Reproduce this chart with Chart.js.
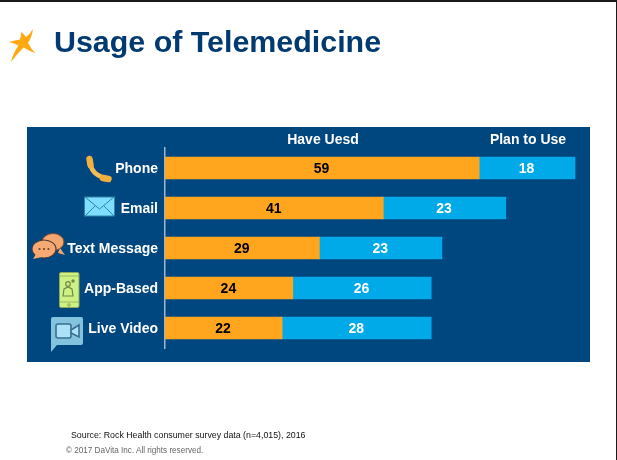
<!DOCTYPE html>
<html>
<head>
<meta charset="utf-8">
<title>Usage of Telemedicine</title>
<script src="https://cdn.jsdelivr.net/npm/chart.js@4"></script>
<style>
  html, body { margin: 0; padding: 0; background: #fff; overflow: hidden; }
  #slide { position: relative; width: 617px; height: 460px; font-family: "Liberation Sans", Arial, sans-serif; overflow: hidden; }
  #slide > * { position: absolute; }
  #topRule { left: 0; top: 0; width: 617px; height: 2px; background: #1a1a1a; }
  #sideRule { left: 616px; top: 0; width: 1px; height: 460px; background: #1a1a1a; }
  #panel { left: 27px; top: 127px; width: 563px; height: 235px; background: #00467F; }
  #heading { left: 54px; top: 22px; font-size: 30.4px; font-weight: bold; color: #003A70; line-height: 38px; white-space: nowrap; }
  .seriesHead { top: 131px; font-size: 14px; font-weight: bold; color: #fff; line-height: 16px; white-space: nowrap; transform: translateX(-50%); }
  #source { left: 71px; top: 430px; font-size: 8.8px; line-height: 11px; color: #111; white-space: nowrap; }
  #rights { left: 66px; top: 446px; font-size: 8.15px; line-height: 10px; color: #666; white-space: nowrap; }
  #chart { left: 0; top: 0; }
  svg { left: 0; top: 0; }
</style>
</head>
<body>
<div id="slide">
  <div id="panel"></div>
  <canvas id="chart" width="617" height="460"></canvas>
  <svg width="617" height="460" viewBox="0 0 617 460">
    <!-- corner star -->
    <path d="M33 29 Q32 37 28 43 Q31 49 35.500 53 Q29 51 23.500 47.500 Q17 54 11 62 Q13 53 18.500 45.500 Q14 43 9 42 Q15 40 20 39.500 Q21 36 21 32 Q24 34 26 37 Q30 34 33 29Z" fill="#FFA912"/>
    <!-- phone handset -->
    <path d="M90 160 Q90 175 107 178.500" fill="none" stroke="#F6BC55" stroke-width="4.500" stroke-linecap="round"/>
    <path d="M89.500 159 L90.500 165 M103 178 L108.500 179" stroke="#F2B040" stroke-width="6.500" stroke-linecap="round"/>
    <!-- envelope -->
    <rect x="84.500" y="197" width="30" height="19" fill="#7FDDFF" stroke="#2B86A6" stroke-width="1"/>
    <path d="M85 197 L99.500 209 L114 197 M85 216 L95 206 M114 216 L104 206" fill="none" stroke="#2B86A6" stroke-width="1"/>
    <!-- speech bubbles -->
    <ellipse cx="53" cy="242" rx="11" ry="8.500" fill="#F4A670" stroke="#7a4a28" stroke-width="1"/>
    <path d="M60 248 L65 255 L58 253Z" fill="#F4A670"/>
    <ellipse cx="44" cy="249" rx="12" ry="9" fill="#F7A873" stroke="#4a3a3a" stroke-width="1.200"/>
    <path d="M36 254 L33 259 L42 257Z" fill="#F7A873"/>
    <circle cx="39.500" cy="249" r="1.100" fill="#6b4630"/>
    <circle cx="44" cy="249" r="1.100" fill="#6b4630"/>
    <circle cx="48.500" cy="249" r="1.100" fill="#6b4630"/>
    <!-- smartphone with app -->
    <rect x="59.500" y="272.500" width="19.500" height="35" rx="1.500" fill="#CDF283" stroke="#8FA85A" stroke-width="1"/>
    <path d="M60 276 H79 M60 302 H79" stroke="#8FA85A" stroke-width="0.800"/>
    <circle cx="69" cy="305" r="1.300" fill="none" stroke="#7d9650" stroke-width="0.800"/>
    <path d="M63 296 L64 289 L68 287 L72 289 L73 296Z" fill="none" stroke="#6f8a4c" stroke-width="1.200"/>
    <circle cx="68" cy="284" r="2.300" fill="none" stroke="#6f8a4c" stroke-width="1.200"/>
    <circle cx="73" cy="281" r="1.700" fill="#6f8a4c"/>
    <!-- video call bubble -->
    <path d="M53 317 H81 Q83 317 83 319 V343 Q83 345 81 345 H57 L51 352 V319 Q51 317 53 317Z" fill="#83C3DE"/>
    <rect x="56" y="324" width="15" height="14" rx="2" fill="#ABE2F7" stroke="#3B6E90" stroke-width="1.600"/>
    <path d="M71 330 L79 325 V337 L71 333Z" fill="#ABE2F7" stroke="#3B6E90" stroke-width="1.600"/>
  </svg>
  <div id="topRule"></div>
  <div id="sideRule"></div>
  <div id="heading">Usage of Telemedicine</div>
  <div class="seriesHead" style="left:323px">Have Uesd</div>
  <div class="seriesHead" style="left:528px">Plan to Use</div>
  <div id="source">Source: Rock Health consumer survey data (n=4,015), 2016</div>
  <div id="rights">© 2017 DaVita Inc. All rights reserved.</div>
</div>
<script>
const categories = ["Phone", "Email", "Text Message", "App-Based", "Live Video"];
const haveUsed = [59, 41, 29, 24, 22];
const planToUse = [18, 23, 23, 26, 28];

// Writes each segment's value at the middle of its bar.
const segmentValues = {
  id: "segmentValues",
  afterDatasetsDraw(chart) {
    const ctx = chart.ctx;
    ctx.save();
    ctx.font = "bold 14px 'Liberation Sans', Arial, sans-serif";
    ctx.textAlign = "center";
    ctx.textBaseline = "middle";
    chart.data.datasets.forEach((ds, i) => {
      ctx.fillStyle = i === 0 ? "#000000" : "#ffffff";
      chart.getDatasetMeta(i).data.forEach((bar, j) => {
        ctx.fillText(String(ds.data[j]), (bar.x + bar.base) / 2 - 0.5, bar.y + 1);
      });
    });
    ctx.restore();
  }
};

new Chart(document.getElementById("chart"), {
  type: "bar",
  data: {
    labels: categories,
    datasets: [
      { label: "Have Uesd", data: haveUsed, backgroundColor: "#FFA51E", barThickness: 22 },
      { label: "Plan to Use", data: planToUse, backgroundColor: "#00A9E8", barThickness: 22 }
    ]
  },
  options: {
    indexAxis: "y",
    responsive: false,
    animation: false,
    layout: { padding: { left: 0, top: 148, right: 26, bottom: 112 } },
    plugins: { legend: { display: false }, title: { display: false }, tooltip: { enabled: false } },
    scales: {
      x: { stacked: true, display: false, min: 0, max: 80 },
      y: {
        stacked: true,
        afterFit(scale) { scale.width = 165; },
        grid: { display: false, drawTicks: false },
        border: { display: true, color: "#9DB6D2", width: 1.5 },
        ticks: {
          color: "#ffffff",
          padding: 7,
          labelOffset: 1,
          font: { family: "'Liberation Sans', Arial, sans-serif", size: 14, weight: "bold" }
        }
      }
    }
  },
  plugins: [segmentValues]
});
</script>
</body>
</html>
